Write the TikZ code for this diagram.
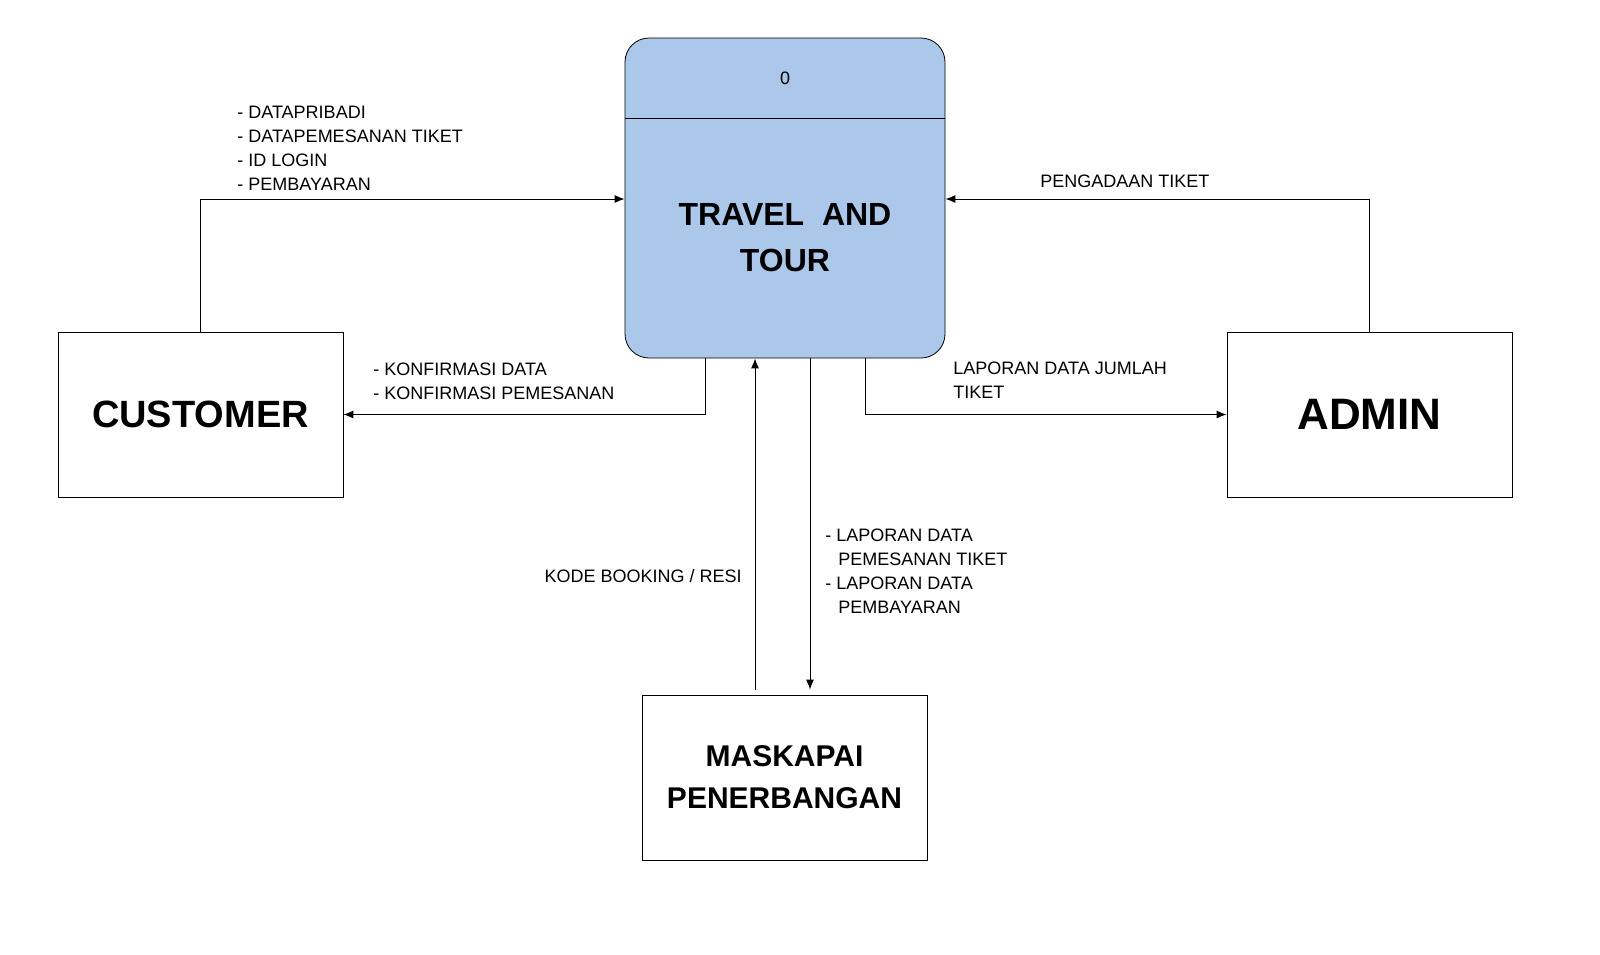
\documentclass[tikz,border=0pt]{standalone}
\usepackage{fontspec}
\setmainfont{Liberation Sans}
\usetikzlibrary{arrows.meta,calc}
\definecolor{procblue}{HTML}{ABC8EA}
\tikzset{
  entity/.style={draw,minimum width=142.5pt,minimum height=82.5pt,inner sep=0,font=\bfseries\fontsize{19}{22}\selectfont,align=center},
  flow/.style={-{Latex[length=5pt,width=4pt]},line width=0.5pt},
  lbl/.style={font=\fontsize{9}{12}\selectfont,align=left,inner sep=0}
}
\begin{document}
\begin{tikzpicture}[x=0.5pt,y=-0.5pt]
    \useasboundingbox (0,0) rectangle (1600,954);
    % process
    \node[draw,fill=procblue,rounded corners=12pt,minimum width=160pt,minimum height=160pt,inner sep=0] (proc) at (785,198) {};
    \draw (625,118) -- (945,118);
    \node[font=\fontsize{9}{11}\selectfont] (num) at (785,78) {0};
    \node[font=\bfseries\fontsize{16}{23}\selectfont,align=center] (title) at (785,238) {TRAVEL\ \ AND\\TOUR};
    % entities
    \node[entity] (cust) at (200.5,414.5) {CUSTOMER};
    \node[entity,font=\bfseries\fontsize{22}{26}\selectfont] (admin) at (1369.5,414.5) {ADMIN};
    \node[entity,font=\bfseries\fontsize{15}{21}\selectfont] (mask) at (784.5,777.5) {MASKAPAI\\PENERBANGAN};
    % flows
    \draw[flow] (cust.north) |- (proc.west |- 0,199);
    \draw[flow] (proc.south -| 705,0) |- (cust.east);
    \draw[flow] (admin.north) |- (proc.east |- 0,199);
    \draw[flow] (proc.south -| 865,0) |- (admin.west);
    \draw[flow] (mask.north -| 755,0) ++(0,-5) -- (proc.south -| 755,0);
    \draw[flow] (proc.south -| 810,0) -- ($(mask.north -| 810,0)+(0,-5)$);
    % labels
    \node[lbl,anchor=north west] (l1) at (237,106) {- DATAPRIBADI\\- DATAPEMESANAN TIKET\\- ID LOGIN\\- PEMBAYARAN};
    \node[lbl,anchor=north west] (l2) at (373,363) {- KONFIRMASI DATA\\- KONFIRMASI PEMESANAN};
    \node[lbl,anchor=west] (l3) at (1040,181) {PENGADAAN TIKET};
    \node[lbl,anchor=north west] (l4) at (953,362) {LAPORAN DATA JUMLAH\\TIKET};
    \node[lbl,anchor=east] (l5) at (742,576) {KODE BOOKING / RESI};
    \node[lbl,anchor=north west] (l6) at (825,529) {- LAPORAN DATA\\\ \ \,PEMESANAN TIKET\\- LAPORAN DATA\\\ \ \,PEMBAYARAN};
\end{tikzpicture}
\end{document}
